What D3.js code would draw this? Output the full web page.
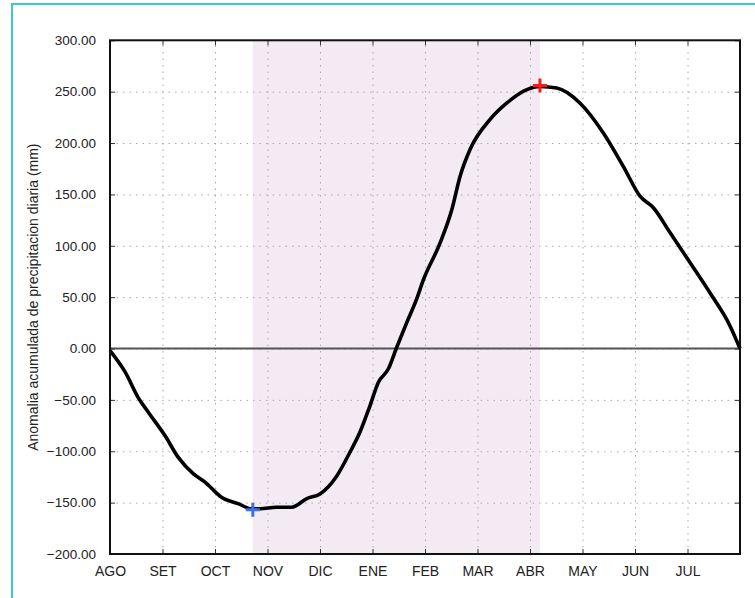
<!DOCTYPE html>
<html>
<head>
<meta charset="utf-8">
<script src="https://cdn.jsdelivr.net/npm/d3@7"></script>
<style>
  body { margin: 0; background: #fff; }
  text { font-family: "Liberation Sans", Arial, sans-serif; fill: #222; }
</style>
</head>
<body>
<div class="graph"></div>
<script>
var width = 755;
var height = 598;

// month labels, one per month starting in August
var months = ["AGO", "SET", "OCT", "NOV", "DIC", "ENE", "FEB", "MAR", "ABR", "MAY", "JUN", "JUL"];
var yTicks = [-200, -150, -100, -50, 0, 50, 100, 150, 200, 250, 300];

// curve: position in months since 1 Aug, accumulated anomaly (mm)
var monthPos = [0, 0.29, 0.54, 0.73, 1.05, 1.30, 1.59, 1.81, 2.13, 2.44, 2.70, 2.86, 3.17, 3.46, 3.75, 4.0,
  4.32, 4.57, 4.76, 4.95, 5.11, 5.30, 5.46, 5.65, 5.84, 5.97, 6.29, 6.51, 6.67, 6.86, 7.24, 7.56, 7.94, 8.19,
  8.51, 8.95, 9.40, 9.78, 10.10, 10.35, 10.67, 11.05, 11.43, 11.81, 12];
var anomaly = [-2, -23, -48, -62, -85, -106, -122, -130, -145, -151, -156, -156, -154.5, -154.5, -146, -141.5,
  -124, -101, -81.5, -56, -33, -20, 1, 25, 48, 67, 103, 135, 168, 194, 223, 239, 252, 255,
  253.5, 239, 209.6, 177, 148, 137, 112.6, 83.5, 54, 22, 0];

var shadeRange = [2.72, 8.19];
var minPoint = [2.72, -157];
var maxPoint = [8.19, 256];

var svg = d3.select(".graph").append("svg")
  .attr("width", width)
  .attr("height", height);

// outer frame
svg.append("rect")
  .attr("x", 12).attr("y", 4)
  .attr("width", 760).attr("height", 610)
  .attr("fill", "none")
  .attr("stroke", "#3cc6d6")
  .attr("stroke-width", 2);

var x = d3.scaleLinear().domain([0, 12]).range([110, 740]);
var y = d3.scaleLinear().domain([-200, 300]).range([554, 40.3]);

// shaded season
svg.append("rect")
  .attr("x", x(shadeRange[0]))
  .attr("y", y(300))
  .attr("width", x(shadeRange[1]) - x(shadeRange[0]))
  .attr("height", y(-200) - y(300))
  .attr("fill", "#f4eaf4");

// grid
var gridY = d3.axisLeft(y).tickValues(yTicks.slice(1, -1)).tickFormat("").tickSize(-(x(12) - x(0)));
svg.append("g")
  .attr("transform", "translate(" + x(0) + ",0)")
  .call(gridY)
  .call(g => g.select(".domain").remove())
  .selectAll("line")
  .attr("stroke", "#aaa")
  .attr("stroke-dasharray", "1.5,5");

var gridX = d3.axisBottom(x).tickValues(d3.range(1, 12)).tickFormat("").tickSize(-(y(-200) - y(300)));
svg.append("g")
  .attr("transform", "translate(0," + y(-200) + ")")
  .call(gridX)
  .call(g => g.select(".domain").remove())
  .selectAll("line")
  .attr("stroke", "#aaa")
  .attr("stroke-dasharray", "1.5,5");

// zero line
svg.append("line")
  .attr("x1", x(0)).attr("x2", x(12))
  .attr("y1", y(0)).attr("y2", y(0))
  .attr("stroke", "#555")
  .attr("stroke-width", 2);

// curve
var line = d3.line()
  .x((d, i) => x(monthPos[i]))
  .y(d => y(d))
  .curve(d3.curveMonotoneX);

svg.append("path")
  .datum(anomaly)
  .attr("fill", "none")
  .attr("stroke", "#000")
  .attr("stroke-width", 3.6)
  .attr("stroke-linejoin", "round")
  .attr("d", line);

// axes with inward ticks
var yAxis = d3.axisLeft(y).tickValues(yTicks).tickSize(-5).tickPadding(14)
  .tickFormat(d => d3.format(".2f")(d));
svg.append("g")
  .attr("transform", "translate(" + x(0) + ",0)")
  .call(yAxis)
  .call(g => g.select(".domain").remove())
  .call(g => g.selectAll("text").style("font-size", "13.5px").attr("fill", "#222"))
  .call(g => g.selectAll("line").attr("stroke", "#333"));

var yAxisR = d3.axisRight(y).tickValues(yTicks).tickSize(-5).tickFormat("");
svg.append("g")
  .attr("transform", "translate(" + x(12) + ",0)")
  .call(yAxisR)
  .call(g => g.select(".domain").remove())
  .call(g => g.selectAll("line").attr("stroke", "#333"));

var xAxis = d3.axisBottom(x).tickValues(d3.range(0, 12)).tickSize(-5).tickPadding(12)
  .tickFormat(d => months[d]);
svg.append("g")
  .attr("transform", "translate(0," + y(-200) + ")")
  .call(xAxis)
  .call(g => g.select(".domain").remove())
  .call(g => g.selectAll("text").style("font-size", "14px").attr("fill", "#222"))
  .call(g => g.selectAll("line").attr("stroke", "#333"));

var xAxisT = d3.axisTop(x).tickValues(d3.range(0, 12)).tickSize(-5).tickFormat("");
svg.append("g")
  .attr("transform", "translate(0," + y(300) + ")")
  .call(xAxisT)
  .call(g => g.select(".domain").remove())
  .call(g => g.selectAll("line").attr("stroke", "#333"));

// plot frame
svg.append("rect")
  .attr("x", x(0)).attr("y", y(300))
  .attr("width", x(12) - x(0)).attr("height", y(-200) - y(300))
  .attr("fill", "none")
  .attr("stroke", "#111")
  .attr("stroke-width", 2);

// min / max markers
function cross(p, color) {
  var cx = x(p[0]), cy = y(p[1]), s = 7;
  svg.append("path")
    .attr("d", "M" + (cx - s) + "," + cy + "H" + (cx + s) + "M" + cx + "," + (cy - s) + "V" + (cy + s))
    .attr("stroke", color)
    .attr("stroke-width", 3);
}
cross(minPoint, "#3b6fe8");
cross(maxPoint, "#ff1a1a");

// y title
svg.append("text")
  .attr("transform", "translate(38," + ((y(300) + y(-200)) / 2) + ") rotate(-90)")
  .style("text-anchor", "middle")
  .style("font-size", "14px")
  .text("Anomalia acumulada de precipitacion diaria (mm)");
</script>
</body>
</html>
